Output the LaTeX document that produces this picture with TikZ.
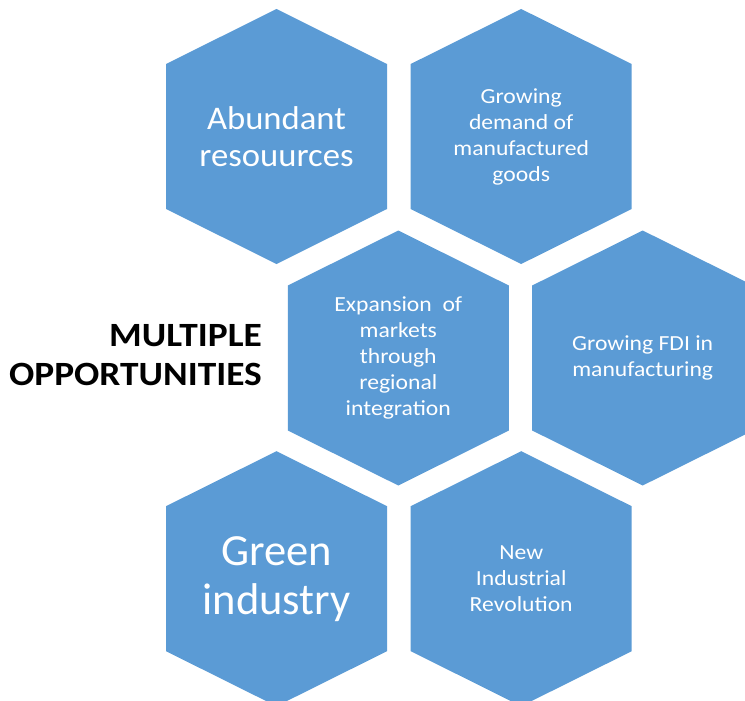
\documentclass[tikz,border=0pt]{standalone}
\usepackage{fontspec}
\setmainfont{Carlito}[FakeStretch=1.1]
\newfontfamily\midfont{Carlito}[FakeStretch=1.05]
\newfontfamily\plainfont{Carlito}
\usepackage{xcolor}
\usepackage{tikz}
\usetikzlibrary{positioning}

\definecolor{hexblue}{HTML}{5B9BD5}
\tikzset{
hexfill/.style={fill=hexblue},
hextext/.style={text=white, align=center, inner sep=0pt,
  font=\fontsize{21.5}{26}\selectfont},
bigtext/.style={font=\midfont\fontsize{33}{37.3}\selectfont},
hugetext/.style={font=\plainfont\fontsize{44.5}{49}\selectfont},
headtext/.style={text=black, align=right, inner sep=0pt,
  font=\bfseries\fontsize{34}{38.3}\selectfont}
}

\begin{document}
\begin{tikzpicture}[x=1pt,y=-1pt]
\useasboundingbox (0,0) rectangle (745,701);
\clip (0,0) rectangle (745,701);

% honeycomb
\foreach \cx/\cy in {276.5/136.5, 521.2/136.5, 398.3/358,
                     642.7/358, 276.5/578.7, 521.2/578.7}
  \fill[hexfill] (\cx,\cy) ++(0,-127.5) -- ++(110.5,55) -- ++(0,145)
    -- ++(-110.5,55) -- ++(-110.5,-55) -- ++(0,-145) -- cycle;

\node[hextext, bigtext] (abund) at (276.5,136.5)
{Abundant\\resouurces};

\node[hextext] (demand) at (521.2,136.5)
{Growing\\demand of\\manufactured\\goods};

\node[hextext] (expand) at (398.3,358)
{Expansion \ of\\markets\\through\\regional\\integration};

\node[hextext] (fdi) at (642.7,358)
{Growing FDI in\\manufacturing};

\node[hextext, hugetext] (green) at (276.5,578.7)
{Green\\industry};

\node[hextext] (newind) at (521.2,578.7)
{New\\Industrial\\Revolution};

\node[headtext, anchor=east] (multi) at (262,355)
{MULTIPLE\\OPPORTUNITIES};
\end{tikzpicture}
\end{document}
